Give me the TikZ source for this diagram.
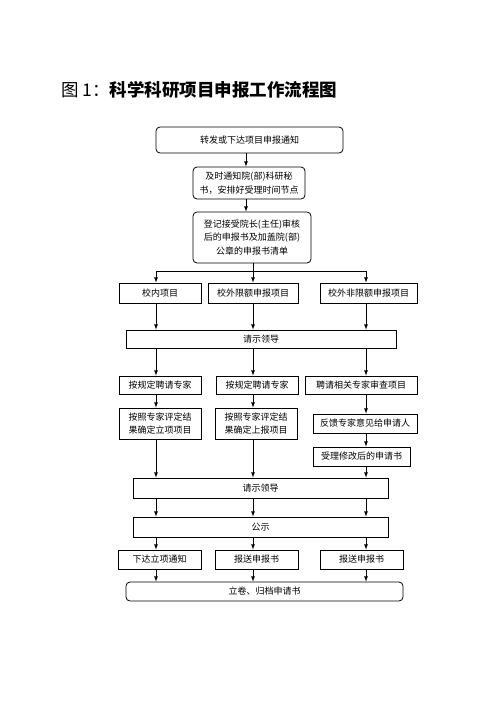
\documentclass[tikz,border=0pt]{standalone}
\usepackage{fontspec}
\newfontfamily\cjk{Noto Sans CJK SC}
\usetikzlibrary{positioning}

\begin{document}
\begin{tikzpicture}[x=1pt,y=-1pt]
      \tikzstyle{step box}=[rectangle, draw=black, line width=0.8pt, inner sep=0pt, align=center, font=\cjk\fontsize{9}{13.5}\selectfont]
      \tikzstyle{round box}=[step box, rounded corners=4pt]
      \tikzstyle{connect}=[-latex, line width=0.8pt]

      \path[use as bounding box] (0,0) rectangle (496,702);

      % title
      \node[anchor=west, inner sep=0pt, font=\cjk\fontsize{17.5}{20}\selectfont] (title) at (61,90) {图 1：\textbf{科学科研项目申报工作流程图}};

      % columns
      \coordinate (c0) at (246,0);
      \coordinate (c1) at (156,0);
      \coordinate (c2) at (253,0);
      \coordinate (c3) at (366,0);

      \node[round box, minimum width=187, minimum height=26] (notice) at (249.5,140) {转发或下达项目申报通知};
      \node[round box, minimum width=112, minimum height=32] (inform) at (249,183) {及时通知院(部)科研秘\\书，安排好受理时间节点};
      \node[round box, minimum width=118, minimum height=51] (register) at (252,237.5) {登记接受院长(主任)审核\\后的申报书及加盖院(部)\\公章的申报书清单};

      \node[step box, minimum width=82, minimum height=20] (inner) at (160,293) {校内项目};
      \node[step box, minimum width=90, minimum height=20] (quota) at (253,293) {校外限额申报项目};
      \node[step box, minimum width=97, minimum height=20] (nonquota) at (368.5,293) {校外非限额申报项目};

      \node[step box, minimum width=270, minimum height=18] (ask1) at (261,339) {请示领导};

      \node[step box, minimum width=82, minimum height=18] (hire1) at (160,385) {按规定聘请专家};
      \node[step box, minimum width=82, minimum height=18] (hire2) at (257,385) {按规定聘请专家};
      \node[step box, minimum width=112, minimum height=18] (hire3) at (361,385) {聘请相关专家审查项目};

      \node[step box, minimum width=82, minimum height=31] (fix1) at (160,423.5) {按照专家评定结\\果确定立项项目};
      \node[step box, minimum width=82, minimum height=31] (fix2) at (256,423.5) {按照专家评定结\\果确定上报项目};
      \node[step box, minimum width=104, minimum height=19] (feedback) at (365,423.5) {反馈专家意见给申请人};
      \node[step box, minimum width=97, minimum height=19] (revised) at (361.5,456.5) {受理修改后的申请书};

      \node[step box, minimum width=255, minimum height=20] (ask2) at (260.5,488) {请示领导};
      \node[step box, minimum width=255, minimum height=20] (publish) at (260.5,527) {公示};

      \node[step box, minimum width=83, minimum height=19] (issue) at (159.5,559.5) {下达立项通知};
      \node[step box, minimum width=83, minimum height=19] (send1) at (256.5,559.5) {报送申报书};
      \node[step box, minimum width=83, minimum height=19] (send2) at (361.5,559.5) {报送申报书};

      \node[round box, minimum width=277, minimum height=19] (archive) at (264.5,591.5) {立卷、归档申请书};

      % top part
      \draw[connect] (notice.south -| c0) -- (inform.north -| c0);
      \draw[connect] (inform.south -| c0) -- (register.north -| c0);
      \coordinate (split) at (c2 |- 0,271);
      \draw[line width=0.8pt] (register.south -| c2) -- (split);
      \draw[line width=0.8pt] (split -| c1) -- (split -| c3);
      \draw[connect] (split -| c1) -- (inner.north -| c1);
      \draw[connect] (split -| c2) -- (quota.north -| c2);
      \draw[connect] (split -| c3) -- (nonquota.north -| c3);

      % to first request
      \draw[connect] (inner.south -| c1) -- (ask1.north -| c1);
      \draw[connect] (quota.south -| c2) -- (ask1.north -| c2);
      \draw[connect] (nonquota.south -| c3) -- (ask1.north -| c3);

      \draw[connect] (ask1.south -| c1) -- (hire1.north -| c1);
      \draw[connect] (ask1.south -| c2) -- (hire2.north -| c2);
      \draw[connect] (ask1.south -| c3) -- (hire3.north -| c3);

      \draw[connect] (hire1.south -| c1) -- (fix1.north -| c1);
      \draw[connect] (hire2.south -| c2) -- (fix2.north -| c2);
      \draw[connect] (hire3.south -| c3) -- (feedback.north -| c3);
      \draw[connect] (feedback.south -| c3) -- (revised.north -| c3);

      % second request
      \draw[connect] (fix1.south -| c1) -- (ask2.north -| c1);
      \draw[connect] (fix2.south -| c2) -- (ask2.north -| c2);
      \draw[connect] (revised.south -| c3) -- (ask2.north -| c3);

      \draw[connect] (ask2.south -| c1) -- (publish.north -| c1);
      \draw[connect] (ask2.south -| c2) -- (publish.north -| c2);
      \draw[connect] (ask2.south -| c3) -- (publish.north -| c3);

      \draw[connect] (publish.south -| c1) -- (issue.north -| c1);
      \draw[connect] (publish.south -| c2) -- (send1.north -| c2);
      \draw[connect] (publish.south -| c3) -- (send2.north -| c3);

      \draw[connect] (issue.south -| c1) -- (archive.north -| c1);
      \draw[connect] (send1.south -| c2) -- (archive.north -| c2);
      \draw[connect] (send2.south -| c3) -- (archive.north -| c3);
\end{tikzpicture}
\end{document}
